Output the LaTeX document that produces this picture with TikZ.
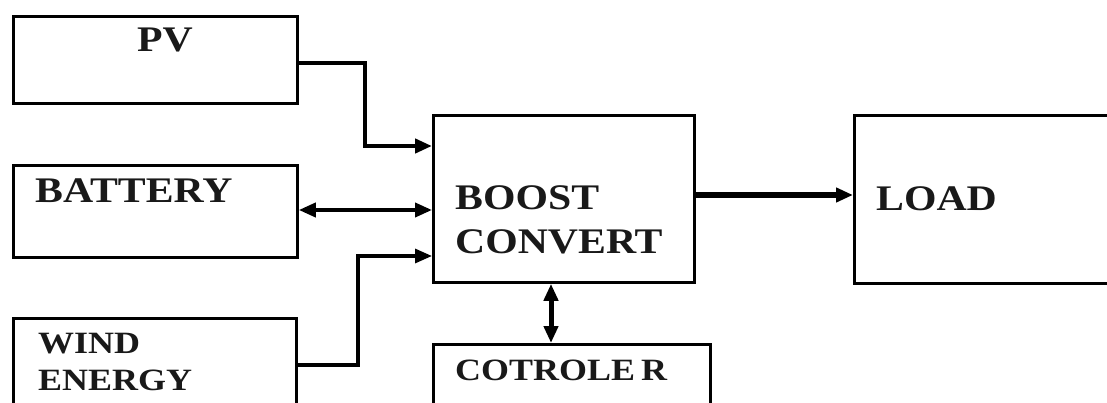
\documentclass[tikz,border=0pt]{standalone}
\usepackage{fontspec}
\newfontfamily\lblfont[FakeStretch=1.16]{Liberation Serif}
\usetikzlibrary{arrows.meta}
\tikzset{
  box/.style={draw=black, line width=2.8pt, fill=none, inner sep=0pt, anchor=north west},
  lbl/.style={inner sep=0pt, anchor=base west, text=black!90, font=\lblfont\bfseries\fontsize{36}{40}\selectfont},
  lblsm/.style={inner sep=0pt, anchor=base west, text=black!90, font=\lblfont\bfseries\fontsize{31}{34}\selectfont},
  tip/.tip={Triangle[length=17pt,width=14pt]},
  conn/.style={draw=black, -tip},
  dconn/.style={draw=black, tip-tip},
}
\begin{document}
\begin{tikzpicture}[x=1pt,y=-1pt]
\useasboundingbox (0,0) rectangle (1107,403);
\fill[white] (0,0) rectangle (1107,403);
\clip (0,0) rectangle (1107,403);
% boxes
\node[box, minimum width=284pt, minimum height=87pt] (pv) at (12,15) {};
\node[box, minimum width=284pt, minimum height=92pt] (bat) at (12,164) {};
\node[box, minimum width=283pt, minimum height=120pt] (wind) at (12,317) {};
\node[box, minimum width=261pt, minimum height=167pt] (boost) at (432,114) {};
\node[box, minimum width=300pt, minimum height=168pt] (load) at (853,114) {};
\node[box, minimum width=277pt, minimum height=100pt] (ctrl) at (432,343) {};
% labels
\node[lbl] (pvt) at (137,52) {PV};
\node[lbl] (batt) at (35,203) {BATTERY};
\node[lblsm] (windt) at (38,353) {WIND};
\node[lblsm] (enert) at (38,390) {ENERGY};
\node[lbl] (boostt) at (455,210) {BOOST};
\node[lbl] (convt) at (455,253) {CONVERT};
\node[lbl] (loadt) at (876,211) {LOAD};
\node[lblsm] (ctrlt) at (455,380) {COTROLE\hspace{6pt}R};
% connectors
\coordinate (pvout) at (296,63);
\coordinate (pvin) at (432,146);
\coordinate (batin) at (432,210);
\coordinate (windout) at (296,365);
\coordinate (windin) at (432,256);
\draw[conn, line width=4.5pt] (pvout) -| (365,104) |- (pvin);
\draw[dconn, line width=3.8pt] (bat.east |- batin) -- (batin);
\draw[conn, line width=3.2pt] (windout) -| (358,300) |- (windin);
\draw[conn, line width=6pt] (boost.east |- 0,195) -- (load.west |- 0,195);
\draw[dconn, line width=5pt] (boost.south -| 551,0) -- (ctrl.north -| 551,0);
\end{tikzpicture}
\end{document}
